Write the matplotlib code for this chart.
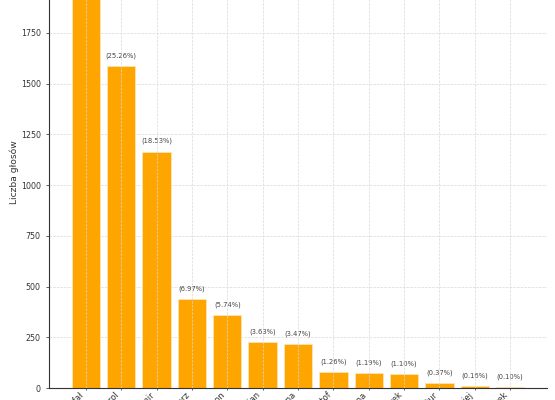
import matplotlib
matplotlib.use("Agg")
import matplotlib.pyplot as plt
import numpy as np

# wyniki (kandydaci w kolejnosci liczby glosow)
kandydaci = [
    "Trzaskowski Rafał", "Nawrocki Karol", "Mentzen Sławomir",
    "Braun Grzegorz", "Hołownia Szymon", "Zandberg Adrian",
    "Biejat Magdalena", "Stanowski Krzysztof", "Senyszyn Joanna",
    "Jakubiak Marek", "Bartoszewicz Artur", "Maciak Maciej", "Woch Marek",
]
glosy = [2027, 1588, 1165, 438, 361, 228, 218, 79, 75, 69, 23, 10, 6]

suma = sum(glosy)
procenty = [g / suma * 100 for g in glosy]

fig = plt.figure(figsize=(5.55, 4), dpi=100)
# axes wider than the picture: top and the rotated labels are cut off
ax = fig.add_axes([0.0883, 0.03, 0.8973, 1.08])

x = np.arange(len(kandydaci))
bars = ax.bar(x, glosy, width=0.8, color="#FFA500",
              edgecolor="#FFE3B3", linewidth=0.6, zorder=2)

for b, p in zip(bars, procenty):
    ax.text(b.get_x() + b.get_width() / 2, b.get_height() + 35,
            f"({p:.2f}%)", ha="center", va="bottom",
            fontsize=4.9, color="#444444")

ax.set_xticks(x)
ax.set_xticklabels(kandydaci, rotation=45, ha="right", fontsize=6,
                   color="#333333")
ax.set_yticks(np.arange(0, 2001, 250))
ax.tick_params(axis="y", labelsize=5.7, labelcolor="#333333", length=2.5,
               width=0.6, color="#444444")
ax.tick_params(axis="x", length=1.5, pad=0.5, width=0.6, color="#444444")
ax.set_ylabel("Liczba głosów", fontsize=6.6, color="#333333", labelpad=1)

ax.set_axisbelow(True)
ax.grid(True, linestyle="--", linewidth=0.5, color="#D9D9D9")
ax.xaxis.set_zorder(3)

for s in ["top", "right"]:
    ax.spines[s].set_visible(False)
for s in ["left", "bottom"]:
    ax.spines[s].set_color("#333333")
    ax.spines[s].set_linewidth(0.8)

fig.savefig("out.png", dpi=100)
